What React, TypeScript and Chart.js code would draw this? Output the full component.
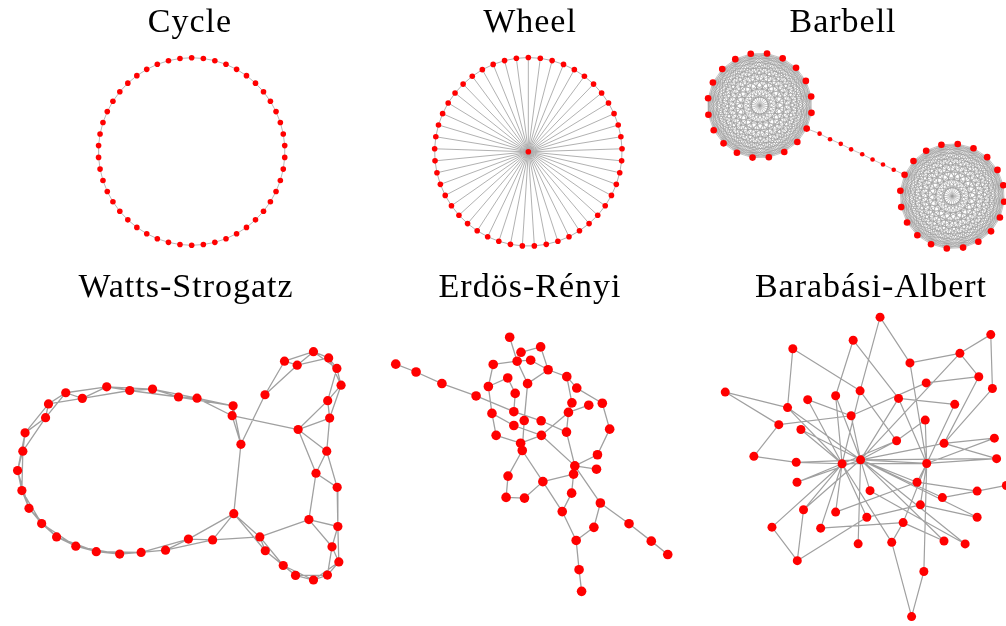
import React, { useEffect, useRef } from "react";
import { Chart, registerables } from "chart.js";

Chart.register(...registerables);

// ---------------- DATA ----------------
const PANEL_TITLES = ["Cycle", "Wheel", "Barbell", "Watts-Strogatz", "Erdös-Rényi", "Barabási-Albert"];

const CYCLE_NODE_COUNT = 50;
const WHEEL_RIM_COUNT = 49;
const BARBELL_CLIQUE_SIZE = 20;
const BARBELL_PATH_X = [819.0, 829.7, 840.7, 851.3, 862.7, 873.3, 884.0, 895.0];
const BARBELL_PATH_Y = [135.3, 141.0, 145.7, 151.3, 156.3, 161.7, 166.7, 172.0];

// Watts-Strogatz nodes, listed in ring order
const WS_X = [267, 287, 300, 316.7, 332.3, 340.7, 345, 331.3, 333.3, 301, 330.3, 319.3, 341, 312, 341.7, 335.7, 342.7, 331, 316.7, 298.3, 285.7, 267.3, 261.7, 235, 213.3, 188.5, 165, 140, 118, 94, 73, 53.3, 38, 25, 17.7, 13.3, 18.7, 21, 42, 45, 62.7, 79.7, 104.7, 128.3, 151.7, 178.3, 197.3, 234.3, 233.3, 242.3];
const WS_Y = [396, 362, 366, 352.3, 358.7, 369.3, 386.3, 402, 419.7, 431.3, 453.3, 475.7, 490, 522.7, 529.7, 550.3, 565.7, 579, 584, 579.3, 569.3, 554.3, 540.3, 516.7, 543.3, 542.5, 553.7, 556, 557.7, 555.3, 549.7, 540.3, 526.7, 511.3, 493.3, 473, 453.3, 434.7, 419.3, 405.3, 394, 399.7, 388, 391.7, 390.3, 398.3, 399.5, 407.3, 417.3, 446.3];
const WS_HALF_K = 2;
const WS_REMOVED = [[12, 13], [48, 0], [49, 1]];
const WS_ADDED = [[49, 23], [48, 9], [13, 22]];

// Erdos-Renyi
const ER_X = [391.3, 412.3, 439, 474.3, 509, 520.7, 541, 492, 516.7, 530.7, 507, 487, 527.5, 514.7, 490.7, 513.3, 524, 513.3, 495, 520.3, 522, 507.3, 505.3, 524.3, 541.5, 541.8, 543.3, 548.7, 568, 578.3, 573.3, 590.7, 604.7, 569.7, 567.7, 612.3, 599.7, 598.7, 576.3, 575, 573, 563.3, 602.7, 596, 577.7, 580.7, 583.3, 632.3, 655.3, 672.3];
const ER_Y = [365, 373, 384.7, 397.3, 337.7, 353, 347.5, 365.3, 362, 361, 379, 387.7, 384.8, 394.7, 415, 413.3, 422.3, 427.3, 437.3, 445.3, 452.7, 478.7, 500.3, 501, 422.5, 437.3, 484.3, 370.7, 377.7, 389.3, 404.3, 406.7, 404.7, 414, 434, 431, 457, 471.7, 468.3, 476.7, 496, 514.7, 506, 530.7, 544, 573.7, 595.7, 527, 544.7, 558.3];
const ER_EDGES = [
  [0, 1], [1, 2], [2, 3], [3, 15], [15, 24],
  [11, 7], [11, 10], [11, 14], [7, 8], [4, 8], [5, 6], [8, 9], [8, 12], [10, 13], [13, 15],
  [12, 16], [16, 20], [14, 18], [14, 17], [18, 19], [17, 25], [19, 25], [20, 21], [20, 26],
  [21, 22], [22, 23], [23, 26], [19, 20],
  [6, 27], [9, 27], [27, 12], [27, 28], [28, 29], [28, 30], [29, 32], [30, 33], [33, 31],
  [33, 34], [33, 25], [24, 34], [34, 38], [25, 38], [32, 35], [35, 36], [36, 38], [37, 38],
  [38, 39], [39, 26], [39, 40], [38, 42], [40, 41], [26, 41], [41, 44], [44, 43], [43, 42],
  [44, 45], [45, 46], [42, 47], [47, 48], [48, 49],
];

// Barabasi-Albert
const BA_X = [790.7, 852.7, 721.3, 785.3, 806, 834.7, 859.8, 850.6, 776.3, 799, 750.7, 794.2, 841.3, 860.3, 880.3, 911, 962.3, 994, 981.7, 995.7, 927.7, 899.3, 957, 926.7, 897.3, 946, 997.7, 1000, 928.2, 795, 801.7, 834.7, 769.3, 819.3, 857.8, 795.3, 918.3, 870, 944.3, 980, 921.7, 866.7, 904, 980, 892.3, 946, 967.7, 925.3, 912.7, 1010];
const BA_Y = [349.3, 340.7, 393.3, 409, 401, 397, 392, 417.3, 426.3, 431.3, 458.5, 464.5, 466, 462, 317.3, 363.7, 354, 335, 377.7, 389.7, 384, 399.7, 405.7, 421.7, 442.7, 445.3, 440, 460.8, 465.7, 484.7, 512.7, 515, 530.3, 531.3, 547.2, 564.3, 484.7, 493.3, 500.3, 493.7, 507.7, 520.3, 525.7, 520.3, 545.7, 544.3, 547.3, 575.3, 621, 488];
const BA_EDGES = [
  [0, 3], [0, 6], [1, 5], [1, 21], [2, 3], [2, 8], [3, 12], [3, 13], [4, 7], [4, 12], [5, 12], [5, 13],
  [8, 7], [8, 10], [9, 12], [9, 13], [10, 11], [11, 12], [11, 13], [14, 15], [14, 6], [15, 16], [15, 28],
  [16, 17], [16, 18], [16, 13], [17, 19], [18, 20], [18, 25], [19, 25], [20, 7], [21, 22], [21, 28],
  [21, 13], [6, 24], [23, 24], [23, 28], [25, 26], [25, 27], [25, 13], [26, 28], [27, 28], [27, 13],
  [28, 13], [12, 28], [29, 12], [29, 13], [30, 12], [30, 13], [30, 35], [32, 12], [32, 35], [31, 12],
  [31, 36], [33, 12], [33, 42], [34, 13], [35, 41], [13, 37], [13, 36], [13, 38], [13, 45], [13, 46],
  [28, 36], [28, 40], [28, 42], [28, 47], [36, 39], [38, 39], [40, 41], [40, 43], [42, 44], [42, 45],
  [44, 48], [47, 48], [39, 49], [37, 46], [13, 43], [41, 12], [44, 12], [24, 13], [7, 13], [22, 28],
  [6, 12], [24, 12],
];

// ---------------- LAYOUT / STYLE ----------------
const TITLE_FONT = "'Liberation Serif', 'Times New Roman', serif";
const TITLE_SIZE = 34;
const TITLE_LINE = 40;
const TITLE_PAD_TOP = 3;
const TITLE_LETTER_SPACING = "1px";
const NODE_COLOR = "#ff0000";

type Pt = { x: number; y: number };

function circleLayout(n: number, cx: number, cy: number, r: number, startDeg: number): Pt[] {
  const pts: Pt[] = [];
  for (let k = 0; k < n; k++) {
    const a = ((startDeg + (k * 360) / n) * Math.PI) / 180;
    pts.push({ x: cx + r * Math.cos(a), y: cy - r * Math.sin(a) });
  }
  return pts;
}

function zipPts(xs: number[], ys: number[]): Pt[] {
  return xs.map((x, i) => ({ x, y: ys[i] }));
}

function buildCycle() {
  const nodes = circleLayout(CYCLE_NODE_COUNT, 191.7, 153.5, 95.5, 90);
  const edges: number[][] = [];
  for (let i = 0; i < CYCLE_NODE_COUNT; i++) edges.push([i, (i + 1) % CYCLE_NODE_COUNT]);
  return { nodes, edges };
}

function buildWheel() {
  const hub = { x: 528.3, y: 153.8 };
  const rim = circleLayout(WHEEL_RIM_COUNT, hub.x, hub.y, 96, 90);
  const nodes = [hub, ...rim];
  const edges: number[][] = [];
  for (let i = 1; i <= WHEEL_RIM_COUNT; i++) {
    edges.push([0, i]);
    edges.push([i, i === WHEEL_RIM_COUNT ? 1 : i + 1]);
  }
  return { nodes, edges };
}

function buildBarbell() {
  const left = circleLayout(BARBELL_CLIQUE_SIZE, 757.7, 106.7, 53.5, -26);
  const path = zipPts(BARBELL_PATH_X, BARBELL_PATH_Y);
  const right = circleLayout(BARBELL_CLIQUE_SIZE, 955, 199, 53.5, 156);
  const nodes = [...left, ...path, ...right];
  const edges: number[][] = [];
  const m = BARBELL_CLIQUE_SIZE;
  const rOff = m + path.length;
  for (let i = 0; i < m; i++)
    for (let j = i + 1; j < m; j++) {
      edges.push([i, j]);
      edges.push([rOff + i, rOff + j]);
    }
  const chain = [0, ...path.map((_, k) => m + k), rOff];
  for (let k = 0; k < chain.length - 1; k++) edges.push([chain[k], chain[k + 1]]);
  const radii = nodes.map((_, i) => (i >= m && i < rOff ? 2.3 : 3.3));
  return { nodes, edges, radii };
}

function buildWS() {
  const nodes = zipPts(WS_X, WS_Y);
  const n = nodes.length;
  const removed = new Set(WS_REMOVED.map(([a, b]) => a + "-" + b));
  const edges: number[][] = [];
  for (let i = 0; i < n; i++)
    for (let d = 1; d <= WS_HALF_K; d++) {
      const j = (i + d) % n;
      if (!removed.has(i + "-" + j)) edges.push([i, j]);
    }
  return { nodes, edges: [...edges, ...WS_ADDED] };
}

function edgePoints(nodes: Pt[], edges: number[][]) {
  const out: any[] = [];
  for (const [a, b] of edges) {
    out.push({ x: nodes[a].x, y: nodes[a].y }, { x: nodes[b].x, y: nodes[b].y }, { x: NaN, y: NaN });
  }
  return out;
}

const cycle = buildCycle();
const wheel = buildWheel();
const barbell = buildBarbell();
const ws = buildWS();
const er = { nodes: zipPts(ER_X, ER_Y), edges: ER_EDGES };
const ba = { nodes: zipPts(BA_X, BA_Y), edges: BA_EDGES };

const PANELS = [
  { title: PANEL_TITLES[0], left: 20, top: 0, width: 340, height: 265, g: cycle, r: 2.8, ec: "#b8b8b8", ew: 1 },
  { title: PANEL_TITLES[1], left: 360, top: 0, width: 340, height: 265, g: wheel, r: 2.8, ec: "#a8a8a8", ew: 0.9 },
  { title: PANEL_TITLES[2], left: 680, top: 0, width: 326, height: 265, g: barbell, r: barbell.radii, ec: "#9a9a9a", ew: 0.6 },
  { title: PANEL_TITLES[3], left: 0, top: 265, width: 372, height: 361, g: ws, r: 4.6, ec: "#a0a0a0", ew: 1.3 },
  { title: PANEL_TITLES[4], left: 380, top: 265, width: 300, height: 361, g: er, r: 4.8, ec: "#a0a0a0", ew: 1.3 },
  { title: PANEL_TITLES[5], left: 700, top: 265, width: 342, height: 361, g: ba, r: 4.5, ec: "#a0a0a0", ew: 1.2 },
];

const titleSpacingPlugin = {
  id: "titleSpacing",
  beforeDraw(chart: any) {
    (chart.ctx as any).letterSpacing = TITLE_LETTER_SPACING;
  },
};

function GraphPanel({ p }: { p: any }) {
  const ref = useRef<HTMLCanvasElement | null>(null);
  useEffect(() => {
    if (!ref.current) return;
    const areaTop = p.top + TITLE_PAD_TOP + TITLE_LINE;
    const chart = new Chart(ref.current, {
      type: "scatter",
      data: {
        datasets: [
          {
            data: p.g.nodes,
            pointRadius: p.r,
            pointBackgroundColor: NODE_COLOR,
            pointBorderColor: NODE_COLOR,
            pointBorderWidth: 0,
            clip: false,
            order: 0,
          } as any,
          {
            data: edgePoints(p.g.nodes, p.g.edges),
            showLine: true,
            spanGaps: false,
            pointRadius: 0,
            borderColor: p.ec,
            borderWidth: p.ew,
            tension: 0,
            clip: false,
            order: 1,
          } as any,
        ],
      },
      options: {
        responsive: false,
        animation: false,
        events: [],
        layout: { padding: 0 },
        plugins: {
          legend: { display: false },
          tooltip: { enabled: false },
          title: {
            display: true,
            text: p.title,
            color: "#000",
            font: { family: TITLE_FONT, size: TITLE_SIZE, weight: "normal", lineHeight: TITLE_LINE / TITLE_SIZE },
            padding: { top: TITLE_PAD_TOP, bottom: 0 },
          },
        },
        scales: {
          x: { type: "linear", display: false, min: p.left, max: p.left + p.width },
          y: { type: "linear", display: false, min: areaTop, max: p.top + p.height, reverse: true },
        },
      } as any,
      plugins: [titleSpacingPlugin],
    });
    return () => chart.destroy();
  }, []);
  return (
    <canvas
      ref={ref}
      width={p.width}
      height={p.height}
      style={{ position: "absolute", left: p.left, top: p.top, width: p.width, height: p.height }}
    />
  );
}

export default function App() {
  useEffect(() => {
    document.body.style.margin = "0";
    document.body.style.overflow = "hidden";
  }, []);
  return (
    <div style={{ position: "fixed", left: 0, top: 0, width: 1006, height: 626, overflow: "hidden", background: "#fff" }}>
      {PANELS.map((p, i) => (
        <GraphPanel key={i} p={p} />
      ))}
    </div>
  );
}
